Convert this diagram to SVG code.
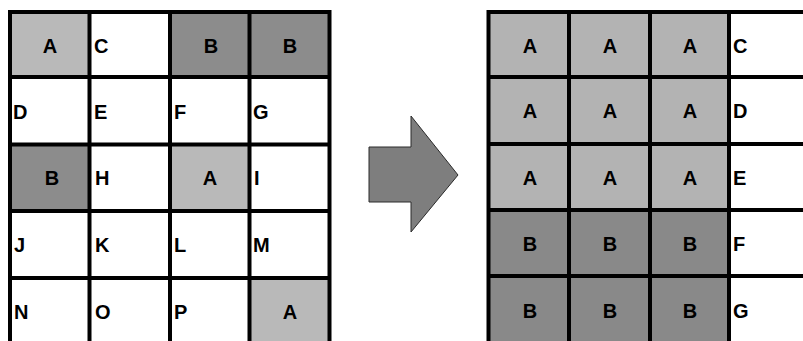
<svg xmlns="http://www.w3.org/2000/svg" width="803" height="341" viewBox="0 0 803 341">
<style>
.a{fill:#b9b9b9}
.b{fill:#8c8c8c}
.ra{fill:#b3b3b3}
.rb{fill:#898989}
text{font-family:"Liberation Sans",Arial,sans-serif;font-size:20px;font-weight:bold;fill:#000}
.c{text-anchor:middle}
.grid{stroke:#000;stroke-width:4;fill:none}
</style>
<rect width="803" height="341" fill="#fff"/>
<g id="left-grid">
<g id="L-A1"><rect class="a" x="10" y="12" width="79.5" height="65"/><text class="c" x="50" y="53">A</text></g>
<g id="L-C"><text x="94" y="53">C</text></g>
<g id="L-B1"><rect class="b" x="170" y="12" width="79.5" height="65"/><text class="c" x="211" y="53">B</text></g>
<g id="L-B2"><rect class="b" x="249.5" y="12" width="80" height="65"/><text class="c" x="290" y="53">B</text></g>
<g id="L-D"><text x="13" y="119">D</text></g>
<g id="L-E"><text x="94" y="119">E</text></g>
<g id="L-F"><text x="174" y="119">F</text></g>
<g id="L-G"><text x="253" y="119">G</text></g>
<g id="L-B3"><rect class="b" x="10" y="144.5" width="79.5" height="66.5"/><text class="c" x="52" y="185">B</text></g>
<g id="L-H"><text x="95" y="185">H</text></g>
<g id="L-A2"><rect class="a" x="170" y="144.5" width="79.5" height="66.5"/><text class="c" x="210" y="185">A</text></g>
<g id="L-I"><text x="254" y="185">I</text></g>
<g id="L-J"><text x="14" y="252">J</text></g>
<g id="L-K"><text x="95" y="252">K</text></g>
<g id="L-L"><text x="174" y="252">L</text></g>
<g id="L-M"><text x="253" y="252">M</text></g>
<g id="L-N"><text x="14" y="319">N</text></g>
<g id="L-O"><text x="95" y="319">O</text></g>
<g id="L-P"><text x="174" y="319">P</text></g>
<g id="L-A3"><rect class="a" x="249.5" y="278" width="80" height="70"/><text class="c" x="290" y="319">A</text></g>
<path class="grid" d="M10 12H329.5M10 77H329.5M10 144.5H329.5M10 211H329.5M10 278H329.5M10 10V345M89.5 12V345M170 12V345M249.5 12V345M329.5 10V345"/>
</g>
<g id="arrow">
<polygon points="369,147 411,147 411,116 458,175 411,232 411,202 369,202" fill="#7e7e7e" stroke="#2a2a2a" stroke-width="1"/>
</g>
<g id="right-grid">
<g id="R-A11"><rect class="ra" x="488.5" y="12" width="80.5" height="65"/><text class="c" x="530" y="53">A</text></g>
<g id="R-A12"><rect class="ra" x="569" y="12" width="81" height="65"/><text class="c" x="610" y="53">A</text></g>
<g id="R-A13"><rect class="ra" x="650" y="12" width="79" height="65"/><text class="c" x="690" y="53">A</text></g>
<g id="R-C"><text x="733" y="53">C</text></g>
<g id="R-A21"><rect class="ra" x="488.5" y="77" width="80.5" height="67"/><text class="c" x="530" y="118">A</text></g>
<g id="R-A22"><rect class="ra" x="569" y="77" width="81" height="67"/><text class="c" x="610" y="118">A</text></g>
<g id="R-A23"><rect class="ra" x="650" y="77" width="79" height="67"/><text class="c" x="690" y="118">A</text></g>
<g id="R-D"><text x="733" y="118">D</text></g>
<g id="R-A31"><rect class="ra" x="488.5" y="144" width="80.5" height="66"/><text class="c" x="530" y="185">A</text></g>
<g id="R-A32"><rect class="ra" x="569" y="144" width="81" height="66"/><text class="c" x="610" y="185">A</text></g>
<g id="R-A33"><rect class="ra" x="650" y="144" width="79" height="66"/><text class="c" x="690" y="185">A</text></g>
<g id="R-E"><text x="733" y="185">E</text></g>
<g id="R-B41"><rect class="rb" x="488.5" y="210" width="80.5" height="66"/><text class="c" x="530" y="251">B</text></g>
<g id="R-B42"><rect class="rb" x="569" y="210" width="81" height="66"/><text class="c" x="610" y="251">B</text></g>
<g id="R-B43"><rect class="rb" x="650" y="210" width="79" height="66"/><text class="c" x="690" y="251">B</text></g>
<g id="R-F"><text x="733" y="251">F</text></g>
<g id="R-B51"><rect class="rb" x="488.5" y="276" width="80.5" height="70"/><text class="c" x="530" y="318">B</text></g>
<g id="R-B52"><rect class="rb" x="569" y="276" width="81" height="70"/><text class="c" x="610" y="318">B</text></g>
<g id="R-B53"><rect class="rb" x="650" y="276" width="79" height="70"/><text class="c" x="690" y="318">B</text></g>
<g id="R-G"><text x="733" y="318">G</text></g>
<path class="grid" d="M486.5 12H812M488.5 77H812M488.5 144H812M488.5 210H812M488.5 276H812M488.5 10V345M569 12V345M650 12V345M729 12V345"/>
</g>
</svg>
